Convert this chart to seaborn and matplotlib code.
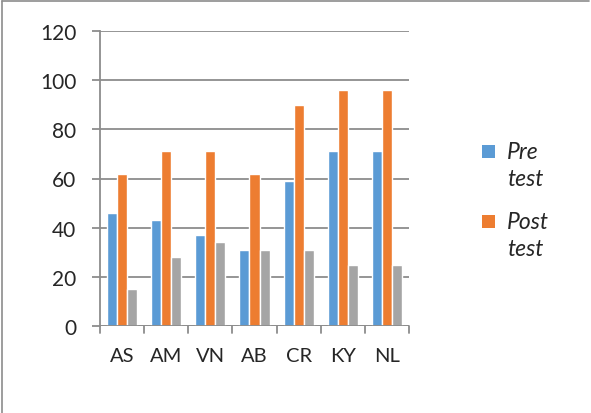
import pandas as pd
import seaborn as sns
from matplotlib import pyplot as plt
from matplotlib.lines import Line2D
from matplotlib.patches import Rectangle

students = ["AS", "AM", "VN", "AB", "CR", "KY", "NL"]
pre_test = [46, 43, 37, 31, 59, 71, 71]
post_test = [62, 71, 71, 62, 90, 96, 96]
third = [15, 28, 34, 31, 31, 25, 25]

series = ["Pre test", "Post test", "Series 3"]
colors = ["#5B9BD5", "#ED7D31", "#A5A5A5"]
legend_labels = ["Pre\ntest", "Post\ntest"]

data = pd.DataFrame({
    "Student": students * 3,
    "Score": pre_test + post_test + third,
    "Series": [s for s in series for _ in students],
})

sns.set_style("white")
plt.rcParams["font.family"] = ["Lato", "DejaVu Sans"]

W, H = 591, 414
fig = plt.figure(figsize=(W / 100, H / 100), dpi=100)
ax = fig.add_axes([100 / W, 1 - 327 / H, 309 / W, 295 / H])

sns.barplot(data, x="Student", y="Score", hue="Series", order=students,
            hue_order=series, palette=colors, width=0.68, ax=ax,
            legend=False, saturation=1)

ax.set_ylim(0, 120)
ax.set_xlim(-0.5, len(students) - 0.5)
ax.set_yticks(range(0, 121, 20))
ax.set_xlabel(None)
ax.set_ylabel(None)
ax.grid(axis="y", color="#8C8C8C", linewidth=1.3)
ax.set_axisbelow(True)
for side in ["top", "right", "bottom"]:
    ax.spines[side].set_visible(False)
ax.spines["left"].set_color("#8C8C8C")
ax.spines["left"].set_linewidth(1.3)

ax.tick_params(axis="y", length=6, width=1.3, color="#8C8C8C", direction="out",
               labelsize=15, pad=11, left=True)
ax.tick_params(axis="x", length=0, labelsize=14.5, pad=15)

# x-axis line with category separators
ax.axhline(0, color="#8C8C8C", linewidth=1.3, zorder=3)
for b in range(len(students) + 1):
    ax.plot([b - 0.5, b - 0.5], [0, -3], color="#8C8C8C", linewidth=1.3,
            clip_on=False)

# legend: square next to the first line of each wrapped label
for i, (label, color) in enumerate(zip(legend_labels, colors)):
    top = 146 + i * 70
    fig.add_artist(Rectangle((482 / W, 1 - (top + 13) / H), 13 / W, 13 / H,
                             facecolor=color, edgecolor="none",
                             transform=fig.transFigure))
    fig.text(507 / W, 1 - (top - 4) / H, label, ha="left", va="top",
             fontsize=16.5, style="italic", linespacing=1.38)

# frame lines at top and left of picture
fig.add_artist(Line2D([2 / W, 2 / W], [0, 1 - 2 / H], color="#8C8C8C",
                      linewidth=1.2, transform=fig.transFigure))
fig.add_artist(Line2D([2 / W, 589 / W], [1 - 2 / H, 1 - 2 / H],
                      color="#8C8C8C", linewidth=1.2, transform=fig.transFigure))

fig.savefig("out.png", dpi=100)
